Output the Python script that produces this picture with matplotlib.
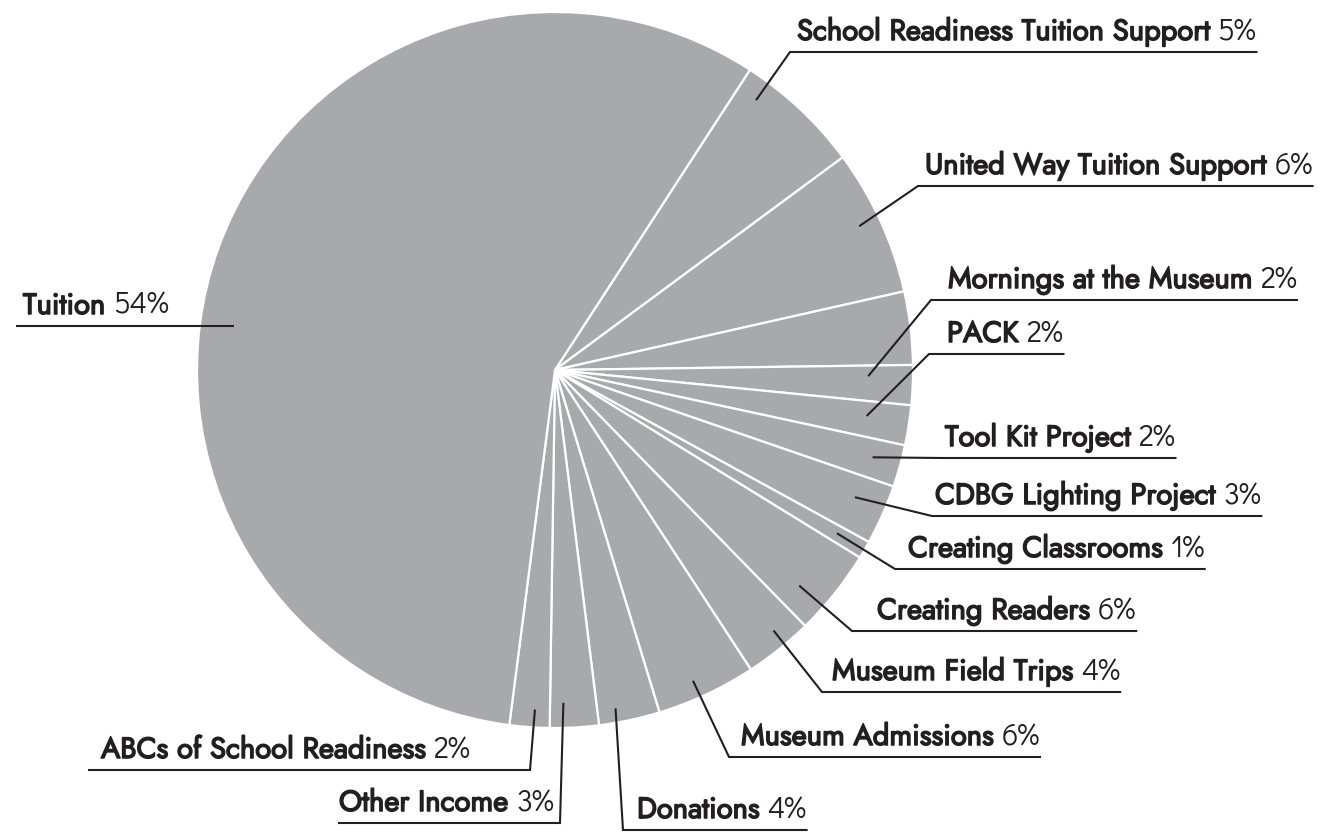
import numpy as np
import matplotlib
matplotlib.use("Agg")
import matplotlib.pyplot as plt
from matplotlib import patheffects

# slices in clockwise order from the top, shares
labels = ["School Readiness Tuition Support", "United Way Tuition Support", "",
          "Mornings at the Museum", "PACK", "Tool Kit Project", "CDBG Lighting Project",
          "Creating Classrooms", "Creating Readers", "Museum Field Trips",
          "Museum Admissions", "Donations", "Other Income", "ABCs of School Readiness",
          "Tuition"]
pct_text = [5, 6, None, 2, 2, 2, 3, 1, 6, 4, 6, 4, 3, 2, 54]
shares = [5.7, 6.6, 3.3, 1.8, 1.8, 1.9, 2.7, 0.8, 3.9, 3.1, 4.5, 2.75, 2.2, 1.8, 57.1]

# label layout (picture pixels, y downwards)
text_x = [797, 925, None, 948, 947, 945, 935, 908, 877, 832, 741, 637, 339, 101, 23]
line_y = [52, 186, None, 300, 354, 458, 516, 569, 631, 692, 757, 830, 823, 770, 326]
elbow_x = [790, 918, None, 931, 929, 942, 932, 895, 852, 822, 729, 623, 560, 530, None]
line_left = [None] * 12 + [338, 88, 16]
# where the leader line starts inside its slice: fraction across the wedge, fraction of radius
anchor_t = [0.18, 0.47, None, 0.30, 0.42, 0.47, 0.41, 0.47, 0.70, 0.39, 0.57, 0.69, 0.71, 0.39, 0.44]
anchor_r = [0.94, 0.94, None, 0.875, 0.88, 0.92, 0.91, 0.91, 0.91, 0.95, 0.95, 0.96, 0.93, 0.95, 0.905]

W, H = 1323, 833
CX, CY, R = 555, 370, 358
GREY = "#a7a9ac"
INK = "#231f20"
NAME_FONT = ["Jost", "DejaVu Sans"]
PCT_FONT = ["Didact Gothic", "DejaVu Sans"]

fig = plt.figure(figsize=(W / 100, H / 100), dpi=100)
ax = fig.add_axes([0, 0, 1, 1])
wedges, _ = ax.pie(shares, startangle=-57, counterclock=True,
                   colors=[GREY] * len(shares), radius=R, center=(CX, CY),
                   wedgeprops=dict(edgecolor="white", linewidth=1.6), frame=False)
ax.set_xlim(0, W)
ax.set_ylim(H, 0)
ax.set_aspect("equal")
ax.axis("off")

renderer = fig.canvas.get_renderer()
inv = ax.transData.inverted()
# Jost only comes in its default weight here, so thicken it a little
bold = [patheffects.withStroke(linewidth=1.1, foreground=INK)]

for i, name in enumerate(labels):
    if not name:
        continue
    w = wedges[i]
    th = np.radians(w.theta1 + anchor_t[i] * (w.theta2 - w.theta1))
    ax_x = CX + anchor_r[i] * R * np.cos(th)
    ax_y = CY + anchor_r[i] * R * np.sin(th)

    base = line_y[i] - 12
    t1 = ax.text(text_x[i], base, name, fontsize=21, family=NAME_FONT, color=INK,
                 ha="left", va="baseline", path_effects=bold)
    x1 = inv.transform((t1.get_window_extent(renderer).x1, 0))[0]
    t2 = ax.text(x1 + 8, base, f"{pct_text[i]}%", fontsize=21.5, family=PCT_FONT,
                 color=INK, ha="left", va="baseline")
    x2 = inv.transform((t2.get_window_extent(renderer).x1, 0))[0]

    if line_left[i] is None:
        xs = [ax_x, elbow_x[i], x2 + 1]
        ys = [ax_y, line_y[i], line_y[i]]
    elif elbow_x[i] is None:
        xs = [line_left[i], ax_x]
        ys = [line_y[i], line_y[i]]
    else:
        xs = [line_left[i], elbow_x[i], ax_x]
        ys = [line_y[i], line_y[i], ax_y]
    ax.plot(xs, ys, color=INK, lw=1.5, solid_capstyle="butt", solid_joinstyle="miter")

fig.savefig("out.png", dpi=100)
